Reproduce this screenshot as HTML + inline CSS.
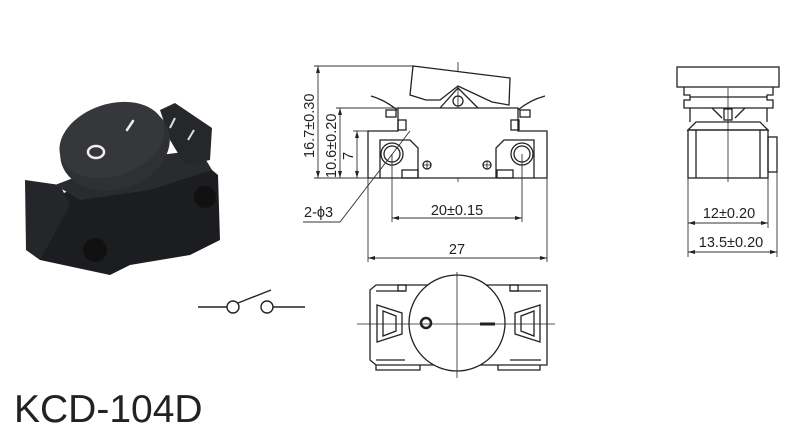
<!DOCTYPE html>
<html><head><meta charset="utf-8"><style>
html,body{margin:0;padding:0;background:#fff;width:800px;height:431px;overflow:hidden}
svg{display:block}
text{font-family:"Liberation Sans",sans-serif;fill:#222}
</style></head><body>
<svg width="800" height="431" viewBox="0 0 800 431" xmlns="http://www.w3.org/2000/svg">
<!-- photo -->
<g>
<polygon points="28,222 50,200 70,190 130,180 200,160 218,175 220,240 190,255 130,265 110,275 40,260" fill="#1c1d20"/>
<polygon points="25,180 60,185 70,205 40,260 26,250" fill="#25262a"/>
<polygon points="55,185 120,160 200,150 212,170 150,190 80,200" fill="#2a2b2f"/>
<polygon points="160,110 175,103 212,128 210,160 185,165 170,140" fill="#26272b"/>
<ellipse cx="115" cy="147" rx="56" ry="42" transform="rotate(-18 115 147)" fill="#2f3034"/>
<ellipse cx="112" cy="140" rx="54" ry="36" transform="rotate(-18 112 140)" fill="#36373b"/>
<ellipse cx="96" cy="152" rx="8" ry="6" fill="none" stroke="#eee" stroke-width="2.5"/>
<line x1="127" y1="130" x2="133" y2="121" stroke="#eee" stroke-width="2.5" stroke-linecap="round"/>
<line x1="170" y1="128" x2="175" y2="118" stroke="#ddd" stroke-width="2"/>
<line x1="188" y1="140" x2="194" y2="130" stroke="#ddd" stroke-width="2"/>
<circle cx="95" cy="250" r="12" fill="#111"/>
<circle cx="205" cy="197" r="11" fill="#111"/>
</g>
<!-- switch symbol -->
<g stroke="#222" stroke-width="1.4" fill="none">
<line x1="198" y1="307" x2="227" y2="307"/>
<circle cx="233" cy="307" r="6"/>
<circle cx="267" cy="307" r="6"/>
<line x1="273" y1="307" x2="305" y2="307"/>
<line x1="238" y1="303" x2="271" y2="290"/>
</g>
<!-- front view -->
<g stroke="#222" stroke-width="1.3" fill="none">
<line x1="458" y1="62" x2="458" y2="182" stroke-width="0.8"/>
<polygon points="413,66 510,78 509,105 492,102 458,86 440,100 426,100 410,95" fill="#fff"/>
<path d="M398,108 L518,108 L518,131 L547,131 L547,178 L368,178 L368,131 L398,131 Z" fill="#fff"/>
<path d="M440,108 L458,88 L478,108" />
<circle cx="458" cy="101" r="5"/>
<path d="M371,96 Q385,100 397,110"/><path d="M545,96 Q530,100 518,110"/>
<rect x="386" y="110" width="10" height="7"/><rect x="398" y="120" width="8" height="10"/>
<rect x="520" y="110" width="10" height="7"/><rect x="511" y="120" width="8" height="10"/>
<circle cx="392" cy="154" r="11"/><circle cx="392" cy="154" r="8"/>
<circle cx="522" cy="154" r="11"/><circle cx="522" cy="154" r="8"/>
<path d="M380,178 L380,140 L410,140 L418,148 L418,178"/>
<path d="M534,178 L534,140 L504,140 L496,148 L496,178"/>
<rect x="402" y="170" width="16" height="8"/><rect x="497" y="170" width="16" height="8"/>
<circle cx="427" cy="165" r="4"/><circle cx="487" cy="165" r="4"/>
<path d="M423,165h8M427,161v8M483,165h8M487,161v8" stroke-width="0.8"/>
</g>
<g stroke="#333" stroke-width="0.9" fill="none">
<line x1="318" y1="66" x2="318" y2="178"/><line x1="314" y1="66" x2="413" y2="66"/>
<line x1="340" y1="108" x2="340" y2="178"/><line x1="336" y1="108" x2="398" y2="108"/>
<line x1="357" y1="131" x2="357" y2="178"/><line x1="353" y1="131" x2="368" y2="131"/>
<line x1="314" y1="178" x2="368" y2="178"/>
<line x1="392" y1="154" x2="392" y2="222"/><line x1="522" y1="154" x2="522" y2="222"/>
<line x1="392" y1="218" x2="522" y2="218"/>
<line x1="368" y1="178" x2="368" y2="262"/><line x1="547" y1="178" x2="547" y2="262"/>
<line x1="368" y1="258" x2="547" y2="258"/>
<polyline points="410,131 340,222 303,222"/>
</g>
<g fill="#222">
<polygon points="318,66 316,73 320,73"/><polygon points="318,178 316,171 320,171"/>
<polygon points="340,108 338,115 342,115"/><polygon points="340,178 338,171 342,171"/>
<polygon points="357,131 355,138 359,138"/><polygon points="357,178 355,171 359,171"/>
<polygon points="392,218 399,216 399,220"/><polygon points="522,218 515,216 515,220"/>
<polygon points="368,258 375,256 375,260"/><polygon points="547,258 540,256 540,260"/>
</g>
<text x="0" y="0" font-size="14.5" transform="translate(314,158) rotate(-90)">16.7±0.30</text>
<text x="0" y="0" font-size="14.5" transform="translate(336,178) rotate(-90)">10.6±0.20</text>
<text x="0" y="0" font-size="14.5" transform="translate(353,160) rotate(-90)">7</text>
<text x="304" y="217" font-size="14.5">2-ϕ3</text>
<text x="457" y="215" font-size="14.5" text-anchor="middle">20±0.15</text>
<text x="457" y="254" font-size="14.5" text-anchor="middle">27</text>
<!-- bottom view -->
<g stroke="#222" stroke-width="1.3" fill="none">
<path d="M376,285 L547,285 L547,365 L376,365 L370,360 L370,290 Z"/>
<path d="M376,291 L405,291 M376,360 L405,360 M510,291 L541,291 M510,360 L541,360"/>
<path d="M376,365 L376,370 L420,370 L420,365 M498,365 L498,370 L540,370 L540,365"/>
<rect x="398" y="285" width="8" height="6"/><rect x="510" y="285" width="8" height="6"/>
<polygon points="377,305 402,313 402,334 377,342"/>
<polygon points="383,311 396,316 396,331 383,336"/>
<polygon points="540,305 515,313 515,334 540,342"/>
<polygon points="534,311 521,316 521,331 534,336"/>
<circle cx="457" cy="323" r="48" fill="#fff"/>
<circle cx="426" cy="323" r="5" stroke-width="2.5"/>
<line x1="480" y1="324" x2="495" y2="324" stroke-width="3"/>
<line x1="357" y1="324" x2="555" y2="324" stroke-width="0.8"/>
<line x1="457" y1="272" x2="457" y2="378" stroke-width="0.8"/>
</g>
<!-- side view -->
<g stroke="#222" stroke-width="1.3" fill="none">
<rect x="677" y="67" width="102" height="20"/>
<path d="M684,87 L684,95 L690,95 L690,100 L684,100 L684,108 L773,108 L773,100 L767,100 L767,95 L773,95 L773,87"/>
<line x1="690" y1="97" x2="767" y2="97"/>
<path d="M690,108 L690,122 M767,108 L767,122"/>
<path d="M712,108 L722,118 M745,108 L735,118"/>
<rect x="724" y="109" width="8" height="11"/>
<path d="M688,130 L696,122 L760,122 L768,130 Z"/>
<rect x="688" y="130" width="80" height="48"/>
<line x1="696" y1="130" x2="696" y2="178"/><line x1="760" y1="130" x2="760" y2="178"/>
<rect x="768" y="137" width="9" height="35"/>
<line x1="728" y1="88" x2="728" y2="182" stroke-width="0.8"/>
</g>
<g stroke="#333" stroke-width="0.9">
<line x1="688" y1="178" x2="688" y2="257"/><line x1="768" y1="178" x2="768" y2="228"/>
<line x1="777" y1="172" x2="777" y2="257"/>
<line x1="688" y1="223" x2="768" y2="223"/><line x1="688" y1="252" x2="777" y2="252"/>
</g>
<g fill="#222">
<polygon points="688,223 695,221 695,225"/><polygon points="768,223 761,221 761,225"/>
<polygon points="688,252 695,250 695,254"/><polygon points="777,252 770,250 770,254"/>
</g>
<text x="729" y="218" font-size="14.5" text-anchor="middle">12±0.20</text>
<text x="731" y="247" font-size="14.5" text-anchor="middle">13.5±0.20</text>
<text x="14" y="422" font-size="39">KCD-104D</text>
</svg>
</body></html>
